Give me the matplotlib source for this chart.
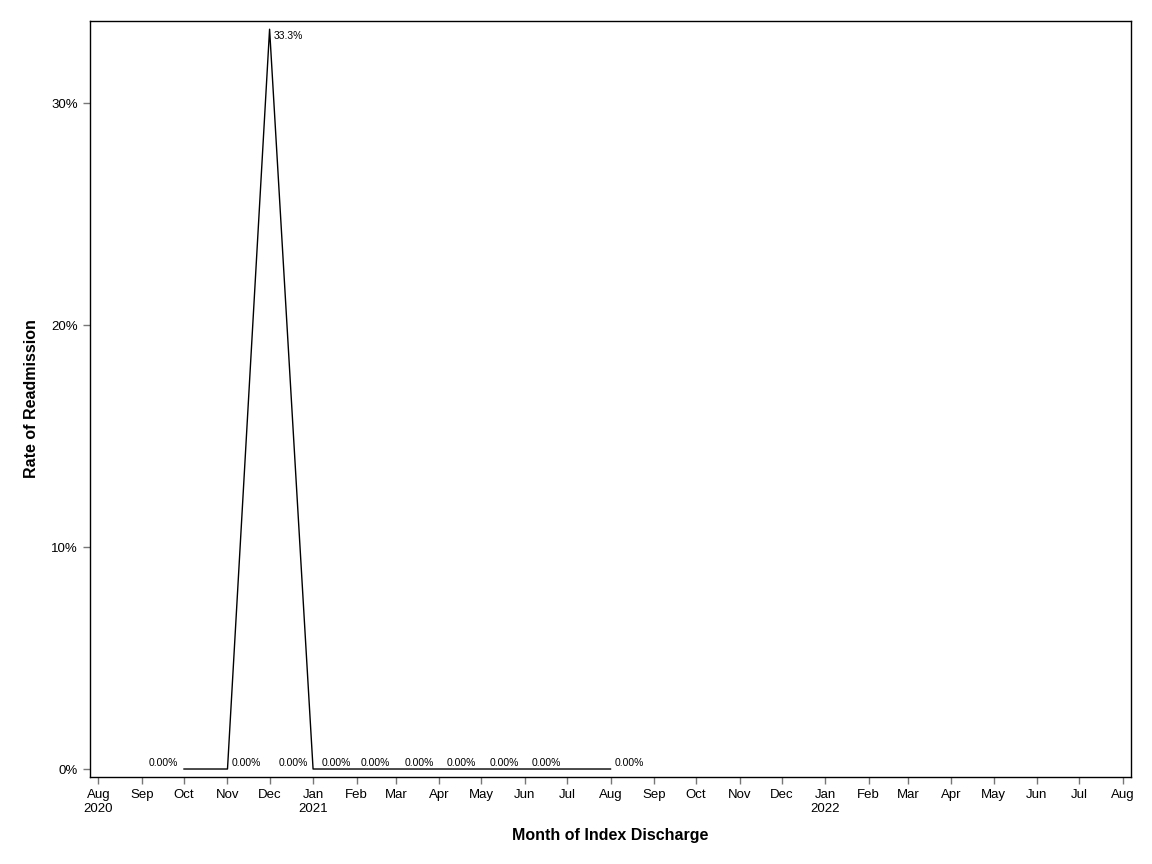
import datetime as dt
import matplotlib
matplotlib.use("Agg")
import matplotlib.pyplot as plt

plt.rcParams["font.family"] = ["Liberation Sans", "DejaVu Sans"]

# monthly readmission rate (%)
months = ["2020-10", "2020-11", "2020-12", "2021-01", "2021-02", "2021-03",
          "2021-04", "2021-05", "2021-06", "2021-07", "2021-08"]
rates = [0.0, 0.0, 33.33, 0.0, 0.0, 0.0, 0.0, 0.0, 0.0, 0.0, 0.0]
point_labels = ["0.00%", "0.00%", "33.3%", "0.00%", "0.00%", "0.00%",
                "0.00%", "0.00%", "0.00%", "0.00%", "0.00%"]
label_side = ["left", "right", "right", "left", "left", "left",
              "left", "left", "left", "left", "right"]

tick_months = ["2020-08", "2020-09", "2020-10", "2020-11", "2020-12",
               "2021-01", "2021-02", "2021-03", "2021-04", "2021-05",
               "2021-06", "2021-07", "2021-08", "2021-09", "2021-10",
               "2021-11", "2021-12", "2022-01", "2022-02", "2022-03",
               "2022-04", "2022-05", "2022-06", "2022-07", "2022-08"]
tick_labels = ["Aug\n2020", "Sep", "Oct", "Nov", "Dec", "Jan\n2021", "Feb",
               "Mar", "Apr", "May", "Jun", "Jul", "Aug", "Sep", "Oct", "Nov",
               "Dec", "Jan\n2022", "Feb", "Mar", "Apr", "May", "Jun", "Jul",
               "Aug"]
y_ticks = [0, 10, 20, 30]
y_tick_labels = ["0%", "10%", "20%", "30%"]


def to_date(s):
    y, m = s.split("-")
    return dt.date(int(y), int(m), 1)


x = [to_date(m) for m in months]
xt = [to_date(m) for m in tick_months]

fig = plt.figure(figsize=(11.52, 8.64), dpi=100)
ax = fig.add_axes([90 / 1152, 87 / 864, 1041 / 1152, 756 / 864])

ax.plot(x, rates, color="black", lw=1.0)

for xi, yi, lab, side in zip(x, rates, point_labels, label_side):
    if yi > 1:
        ax.annotate(lab, (xi, yi), xytext=(3, -5), textcoords="offset points",
                    ha="left", va="center", fontsize=7.5)
    elif side == "left":
        ax.annotate(lab, (xi, yi), xytext=(-4, 4.5), textcoords="offset points",
                    ha="right", va="center", fontsize=7.5)
    else:
        ax.annotate(lab, (xi, yi), xytext=(3, 4.5), textcoords="offset points",
                    ha="left", va="center", fontsize=7.5)

ax.set_xlim(dt.date(2020, 7, 26), dt.date(2022, 8, 7))
ax.set_ylim(-0.36, 33.7)
ax.set_xticks(xt)
ax.set_xticklabels(tick_labels, fontsize=9.5)
ax.set_yticks(y_ticks)
ax.set_yticklabels(y_tick_labels, fontsize=9.5)
ax.tick_params(direction="out", length=5, color="#777777", width=1)

ax.set_xlabel("Month of Index Discharge", fontsize=11.5, fontweight="bold", labelpad=10)
ax.set_ylabel("Rate of Readmission", fontsize=11.5, fontweight="bold", labelpad=9)

for s in ax.spines.values():
    s.set_linewidth(1)

fig.savefig("out.png", dpi=100)
